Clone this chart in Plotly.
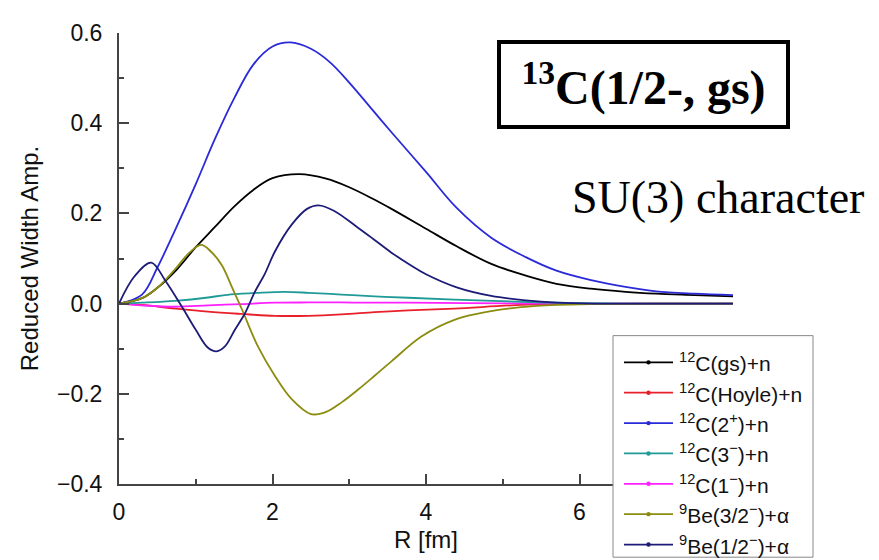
import plotly.graph_objects as go

# ---- data ----
r_gs = [0, 0.3, 0.5, 0.75, 1.0, 1.25, 1.5, 1.75, 2.0, 2.35, 2.7, 3.0, 3.3, 3.55, 4.0, 4.4, 4.85, 5.3, 5.7, 6.15, 6.6, 7.0, 7.5, 8.0]
v_gs = [0, 0.012, 0.035, 0.075, 0.125, 0.17, 0.215, 0.252, 0.278, 0.287, 0.277, 0.258, 0.233, 0.21, 0.166, 0.127, 0.088, 0.062, 0.044, 0.033, 0.026, 0.022, 0.019, 0.016]

r_hoyle = [0, 0.3, 0.73, 1.16, 1.6, 2.03, 2.47, 2.9, 3.33, 3.77, 4.37, 5.24, 6.0, 7.0, 8.0]
v_hoyle = [0, -0.003, -0.011, -0.018, -0.023, -0.027, -0.027, -0.024, -0.019, -0.015, -0.011, -0.003, -0.001, 0, 0]

r_2p = [0, 0.3, 0.5, 0.75, 1.0, 1.25, 1.5, 1.75, 2.0, 2.23, 2.5, 2.75, 3.0, 3.3, 3.55, 4.0, 4.4, 4.85, 5.3, 5.7, 6.15, 6.6, 7.0, 7.5, 8.0]
v_2p = [0, 0.02, 0.08, 0.17, 0.265, 0.365, 0.455, 0.53, 0.57, 0.579, 0.565, 0.535, 0.49, 0.43, 0.38, 0.292, 0.212, 0.146, 0.103, 0.073, 0.052, 0.037, 0.027, 0.022, 0.019]

r_3m = [0, 0.3, 0.73, 1.16, 1.38, 1.6, 1.81, 2.16, 2.47, 2.9, 3.33, 3.77, 4.37, 5.24, 6.0, 7.0, 8.0]
v_3m = [0, 0.002, 0.006, 0.0135, 0.019, 0.022, 0.024, 0.026, 0.024, 0.02, 0.016, 0.013, 0.009, 0.004, 0.001, 0, 0]

r_1m = [0, 0.3, 0.73, 1.16, 1.6, 2.03, 2.47, 2.9, 3.33, 3.77, 4.5, 5.5, 7.0, 8.0]
v_1m = [0, -0.004, -0.007, -0.004, -0.001, 0.002, 0.0025, 0.0025, 0.002, 0.002, 0.001, 0.0, 0, 0]

r_be32 = [0, 0.3, 0.5, 0.75, 0.9, 1.07, 1.2, 1.34, 1.47, 1.6, 1.81, 2.03, 2.25, 2.5, 2.7, 2.9, 3.12, 3.33, 3.55, 3.94, 4.37, 4.81, 5.24, 5.7, 6.2, 7.0, 8.0]
v_be32 = [0, 0.012, 0.035, 0.08, 0.11, 0.13, 0.115, 0.085, 0.037, -0.012, -0.095, -0.16, -0.212, -0.245, -0.24, -0.219, -0.19, -0.16, -0.128, -0.073, -0.036, -0.018, -0.008, -0.003, -0.001, 0, 0]

r_be12 = [0, 0.2, 0.42, 0.6, 0.82, 1.0, 1.16, 1.27, 1.38, 1.51, 1.64, 1.77, 1.9, 2.03, 2.25, 2.45, 2.6, 2.8, 3.1, 3.3, 3.55, 3.8, 4.0, 4.4, 4.85, 5.3, 5.7, 6.2, 7.0, 8.0]
v_be12 = [0, 0.06, 0.091, 0.052, -0.007, -0.058, -0.098, -0.106, -0.095, -0.058, -0.022, 0.026, 0.066, 0.115, 0.175, 0.21, 0.218, 0.206, 0.17, 0.145, 0.113, 0.085, 0.065, 0.036, 0.017, 0.007, 0.002, 0, 0, 0]

x_ticks = [0, 2, 4, 6]
y_ticks = [-0.4, -0.2, 0.0, 0.2, 0.4, 0.6]

names = [
    "<sup>12</sup>C(gs)+n",
    "<sup>12</sup>C(Hoyle)+n",
    "<sup>12</sup>C(2<sup>+</sup>)+n",
    "<sup>12</sup>C(3<sup>−</sup>)+n",
    "<sup>12</sup>C(1<sup>−</sup>)+n",
    "<sup>9</sup>Be(3/2<sup>−</sup>)+α",
    "<sup>9</sup>Be(1/2<sup>−</sup>)+α",
]
colors = ["#000000", "#e8202a", "#2a2ad8", "#1f9a96", "#ff20ff", "#8c8c10", "#1c1c78"]
series = [(r_gs, v_gs), (r_hoyle, v_hoyle), (r_2p, v_2p), (r_3m, v_3m),
          (r_1m, v_1m), (r_be32, v_be32), (r_be12, v_be12)]

# ---- layout geometry (pixels) ----
W, H = 879, 560
L, R_, T, B = 111, 154, 20, 84
PW, PH = W - L - R_, H - T - B


def px(xp):
    return (xp - L) / PW


def py(yp):
    return (H - B - yp) / PH


fig = go.Figure()
order = [1, 4, 3, 0, 2, 5, 6]
for i in order:
    r, v = series[i]
    fig.add_trace(go.Scatter(x=r, y=v, mode="lines",
                             line=dict(color=colors[i], width=1.8, shape="spline", smoothing=1.0),
                             showlegend=False, hoverinfo="skip"))

sans = "Liberation Sans, Arial, sans-serif"
serif = "Liberation Serif, Times New Roman, serif"
tick_font = dict(family=sans, size=23, color="#111")
title_font = dict(family=sans, size=24, color="#111")

shapes = []
annotations = []

# manual legend box (line + dot + text)
shapes.append(dict(type="rect", xref="paper", yref="paper", x0=px(605), x1=px(805), y0=py(550), y1=py(326),
                   fillcolor="white", line=dict(color="#888", width=1), layer="above"))
for i in range(7):
    yc = 353 + 30.7 * i
    shapes.append(dict(type="line", xref="paper", yref="paper", x0=px(616), x1=px(665), y0=py(yc), y1=py(yc),
                       line=dict(color=colors[i], width=1.8), layer="above"))
    shapes.append(dict(type="circle", xref="paper", yref="paper", xsizemode="pixel", ysizemode="pixel",
                       xanchor=px(640.5), yanchor=py(yc), x0=-2.2, x1=2.2, y0=-2.2, y1=2.2,
                       fillcolor=colors[i], line=dict(color=colors[i], width=0), layer="above"))
    annotations.append(dict(xref="paper", yref="paper", x=px(669), y=py(yc), xanchor="left", yanchor="middle",
                            text=names[i], showarrow=False, font=dict(family=sans, size=21, color="#111")))

annotations.append(dict(xref="paper", yref="paper", x=px(635.5), y=py(72.5), xanchor="center", yanchor="middle",
                        text="<b><sup>13</sup>C(1/2-, gs)</b>", showarrow=False,
                        font=dict(family=serif, size=48, color="black"),
                        bordercolor="black", borderwidth=4, borderpad=10, bgcolor="white", width=265, height=61))
annotations.append(dict(xref="paper", yref="paper", x=px(710), y=py(186), xanchor="center", yanchor="middle",
                        text="SU(3) character", showarrow=False,
                        font=dict(family=serif, size=46, color="black")))

fig.update_layout(
    width=W, height=H,
    margin=dict(l=L, r=R_, t=T, b=B),
    paper_bgcolor="white", plot_bgcolor="white",
    font=tick_font,
    showlegend=False,
    xaxis=dict(range=[0, 8], tickvals=x_ticks, ticks="inside", ticklen=10, tickwidth=2, tickcolor="#444",
               showline=True, linewidth=2, linecolor="#444", showgrid=False, zeroline=False,
               ticklabelstandoff=6,
               minor=dict(dtick=1, ticks="inside", ticklen=5, tickwidth=2, tickcolor="#444"),
               title=dict(text="R [fm]", font=title_font, standoff=8), tickfont=tick_font),
    yaxis=dict(range=[-0.4, 0.6], tickvals=y_ticks, tickformat=".1f", ticks="inside", ticklen=10, tickwidth=2,
               tickcolor="#444", showline=True, linewidth=2, linecolor="#444", showgrid=False, zeroline=False,
               ticklabelstandoff=10,
               minor=dict(dtick=0.1, ticks="inside", ticklen=5, tickwidth=2, tickcolor="#444"),
               title=dict(text="Reduced Width Amp.", font=title_font, standoff=12), tickfont=tick_font),
    shapes=shapes,
    annotations=annotations,
)
fig.write_html("out.html")
